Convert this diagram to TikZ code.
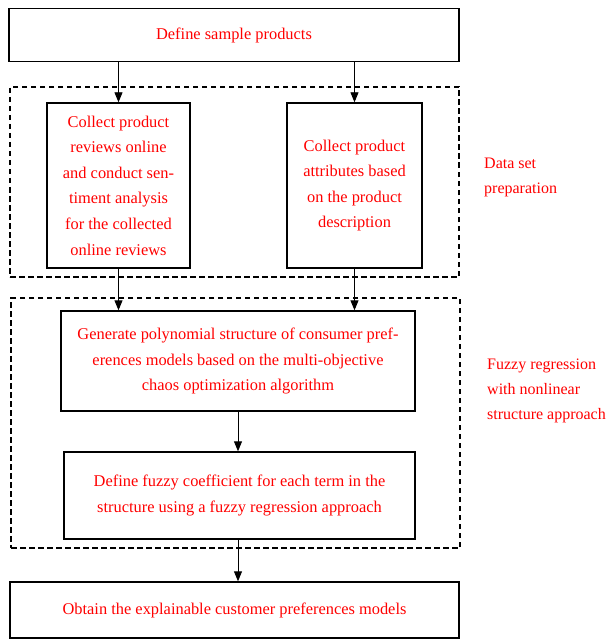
\documentclass[tikz,border=0pt]{standalone}
\usepackage{fontspec}
\setmainfont{Liberation Serif}
\usetikzlibrary{arrows.meta}
\begin{document}
\begin{tikzpicture}[x=1pt,y=-1pt,
  procbox/.style={draw=black, line width=1.4pt, text=red, align=center, inner sep=0pt,
    font=\fontsize{16.4}{25.6}\selectfont},
  groupbox/.style={draw=black, line width=1.3pt, dash pattern=on 5.5pt off 3.5pt, inner sep=0pt},
  grouplabel/.style={text=red, align=left, anchor=west, inner sep=0pt,
    font=\fontsize{16}{25.2}\selectfont},
  arr/.style={draw=black, line width=0.9pt, -{Triangle[width=8pt,length=10pt]}}]
\useasboundingbox (0,0) rectangle (608,639);
% group frames
\node[groupbox, minimum width=449pt, minimum height=190pt] (g1) at (234.5,182) {};
\node[groupbox, minimum width=449pt, minimum height=250pt] (g2) at (235.5,423) {};
% process boxes
\node[procbox, minimum width=450pt, minimum height=53pt] (top) at (234,35) {Define sample products};
\node[procbox, minimum width=143pt, minimum height=165pt] (left) at (118.5,185.5)
  {Collect product\\reviews online\\and conduct sen-\\timent analysis\\for the collected\\online reviews};
\node[procbox, minimum width=135pt, minimum height=165pt] (right) at (354.5,185.5)
  {Collect product\\attributes based\\on the product\\description};
\node[procbox, minimum width=354pt, minimum height=100pt] (gen) at (238,361)
  {Generate polynomial structure of consumer pref-\\erences models based on the multi-objective\\chaos optimization algorithm};
\node[procbox, minimum width=351pt, minimum height=87pt] (fuzzy) at (239.5,495.5)
  {Define fuzzy coefficient for each term in the\\structure using a fuzzy regression approach};
\node[procbox, minimum width=449pt, minimum height=56pt] (obtain) at (234.5,610)
  {Obtain the explainable customer preferences models};
% labels
\node[grouplabel] (l1) at (484,177.5) {Data set\\preparation};
\node[grouplabel] (l2) at (487,391) {Fuzzy regression\\with nonlinear\\structure approach};
% connectors
\draw[arr] (top.south -| left.north) -- (left.north);
\draw[arr] (top.south -| right.north) -- (right.north);
\draw[arr] (left.south) -- (left.south |- gen.north);
\draw[arr] (right.south) -- (right.south |- gen.north);
\draw[arr] (gen.south) -- (gen.south |- fuzzy.north);
\draw[arr] (gen.south |- fuzzy.south) -- (gen.south |- obtain.north);
\end{tikzpicture}
\end{document}
